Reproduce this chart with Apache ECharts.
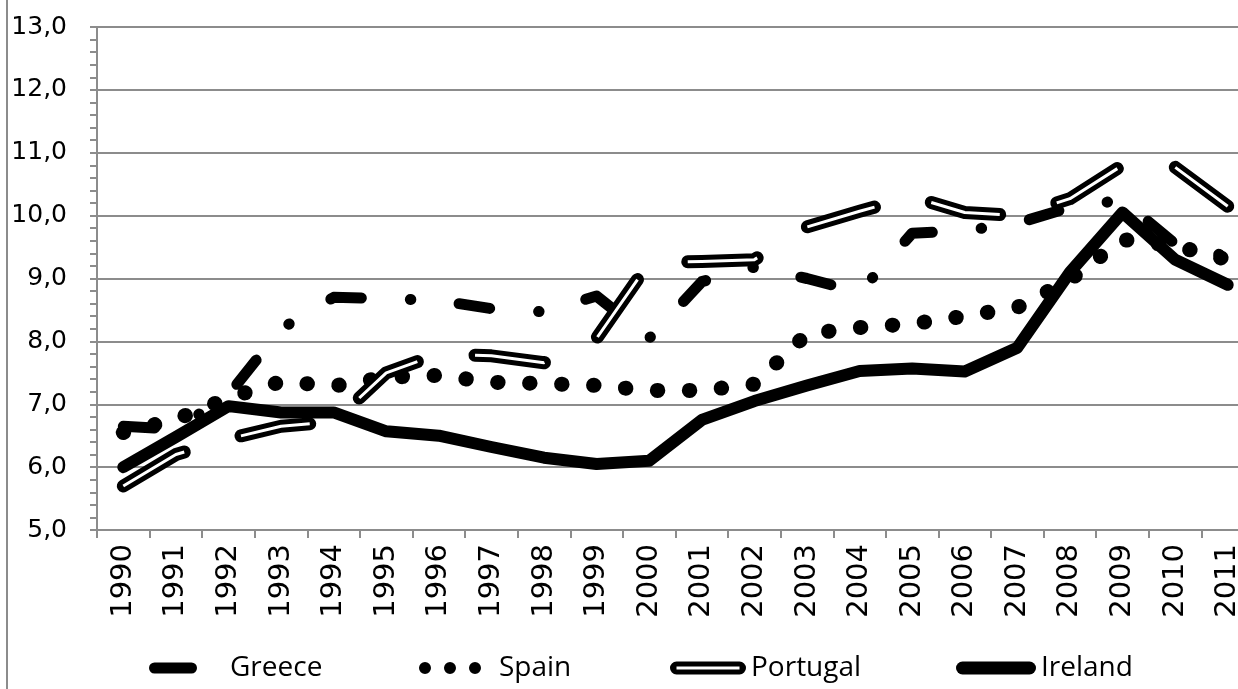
<!DOCTYPE html>
<html><head><meta charset="utf-8">
<script src="https://cdn.jsdelivr.net/npm/echarts@6/dist/echarts.min.js"></script>
<style>html,body{margin:0;padding:0;background:#fff}#c{width:1238px;height:689px}</style>
</head><body><div id="c"></div>
<script>
const years = ['1990','1991','1992','1993','1994','1995','1996','1997','1998','1999','2000','2001','2002','2003','2004','2005','2006','2007','2008','2009','2010','2011'];
const greece   = [6.65, 6.60, 7.15, 8.20, 8.70, 8.68, 8.65, 8.52, 8.47, 8.72, 8.05, 8.95, 9.18, 9.00, 8.78, 9.72, 9.76, 9.88, 10.13, 10.25, 9.55, 9.35];
const spain    = [6.55, 6.76, 7.10, 7.36, 7.29, 7.43, 7.46, 7.35, 7.33, 7.30, 7.22, 7.22, 7.32, 8.12, 8.22, 8.28, 8.40, 8.54, 8.98, 9.62, 9.52, 9.30];
const portugal = [5.70, 6.20, 6.45, 6.65, 6.72, 7.50, 7.80, 7.77, 7.66, 8.05, 9.25, 9.27, 9.30, 9.82, 10.07, 10.30, 10.05, 10.00, 10.27, 10.80, 10.77, 10.15];
const ireland  = [6.00, 6.48, 6.97, 6.87, 6.87, 6.57, 6.50, 6.32, 6.15, 6.05, 6.10, 6.75, 7.05, 7.30, 7.53, 7.57, 7.52, 7.90, 9.10, 10.05, 9.30, 8.90];
const seriesNames = ['Greece', 'Spain', 'Portugal', 'Ireland'];

const GRAY = '#8c8c8c';
const AXIS_FONT = '"DejaVu Sans", Verdana, sans-serif';
const chart = echarts.init(document.getElementById('c'), null, {renderer: 'canvas'});

const icons = {
  Greece: 'path://M5.5,0H42.5A5.5,5.5,0,0,1,42.5,11H5.5A5.5,5.5,0,0,1,5.5,0Z',
  Spain: 'path://M0,6A6,6,0,1,1,12,6A6,6,0,1,1,0,6Z M25,6A6,6,0,1,1,37,6A6,6,0,1,1,25,6Z M50,6A6,6,0,1,1,62,6A6,6,0,1,1,50,6Z',
  Portugal: 'path://M6.5,0H69.5A6.5,6.5,0,0,1,69.5,13H6.5A6.5,6.5,0,0,1,6.5,0Z M6.5,5V8H69.5V5Z',
  Ireland: 'path://M6.5,0H73.5A6.5,6.5,0,0,1,73.5,13H6.5A6.5,6.5,0,0,1,6.5,0Z'
};
const legendCfg = [
  {name: 'Greece', left: 149, w: 48, h: 11, pad: 28},
  {name: 'Spain', left: 419, w: 62, h: 12, pad: 13},
  {name: 'Portugal', left: 670, w: 76, h: 13, pad: 0},
  {name: 'Ireland', left: 956, w: 80, h: 13, pad: 0}
];

function lineSeries(name, data, width, dash, cap, color, z) {
  return {
    type: 'line', name: name, data: data, symbol: 'none', showSymbol: false,
    silent: true, z: z, animation: false,
    itemStyle: {color: color},
    lineStyle: {color: color, width: width, type: dash, cap: cap, join: 'round'}
  };
}

chart.setOption({
  animation: false,
  backgroundColor: '#fff',
  grid: {left: 97, right: -16, top: 27, bottom: 159, containLabel: false, outerBoundsMode: 'none'},
  graphic: [{type: 'line', shape: {x1: 7, y1: 0, x2: 7, y2: 689}, style: {stroke: GRAY, lineWidth: 2}, silent: true}],
  legend: legendCfg.map(c => ({
    data: [{name: c.name, icon: icons[c.name]}],
    left: c.left, top: 654, padding: 0, itemWidth: c.w, itemHeight: c.h,
    selectedMode: false,
    itemStyle: {color: '#000', borderWidth: 0, borderColor: '#000'},
    textStyle: {fontFamily: '"Open Sans", sans-serif', fontSize: 28, color: '#000', padding: [0, 0, 0, c.pad]}
  })),
  xAxis: {
    type: 'category', data: years, boundaryGap: true,
    axisLine: {show: true, lineStyle: {color: GRAY, width: 2}},
    axisTick: {show: true, alignWithLabel: false, interval: 0, length: 8, lineStyle: {color: GRAY, width: 2}},
    axisLabel: {interval: 0, rotate: 90, margin: 14, color: '#000', fontFamily: AXIS_FONT, fontSize: 29},
    splitLine: {show: false}
  },
  yAxis: {
    type: 'value', min: 5, max: 13, interval: 1,
    axisLine: {show: true, lineStyle: {color: GRAY, width: 2}},
    axisTick: {show: true, inside: false, length: 7, lineStyle: {color: GRAY, width: 2}},
    minorTick: {show: true, splitNumber: 5, length: 7, lineStyle: {color: GRAY, width: 2}},
    axisLabel: {margin: 30, color: '#000', fontFamily: AXIS_FONT, fontSize: 25,
      formatter: v => v.toFixed(1).replace('.', ',')},
    splitLine: {show: true, lineStyle: {color: GRAY, width: 2}}
  },
  series: [
    lineSeries('Greece', greece, 11, [31, 49, 0.5, 48.5], 'round', '#000', 2),
    lineSeries('Spain', spain, 15, [0.5, 31.5], 'round', '#000', 3),
    lineSeries('Portugal', portugal, 13, [70, 59], 'round', '#000', 4),
    lineSeries('Portugal core', portugal, 3, [70, 59], 'butt', '#fff', 5),
    lineSeries('Ireland', ireland, 12, 'solid', 'round', '#000', 6)
  ]
});
</script>
</body></html>
